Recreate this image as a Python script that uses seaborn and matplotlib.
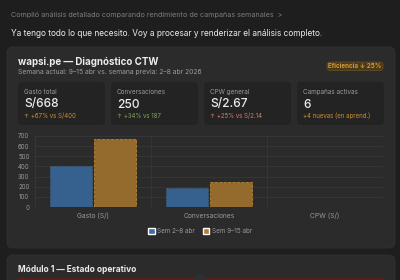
import numpy as np
import pandas as pd
import matplotlib
matplotlib.use("Agg")
import matplotlib.pyplot as plt
from matplotlib.patches import FancyBboxPatch, Rectangle, Circle
import seaborn as sns

# ================= DATA =================
metrics = ["Gasto (S/)", "Conversaciones", "CPW (S/)"]
prev_week = [400, 187, 2.14]
curr_week = [668, 250, 2.67]
week_labels = ["Sem 2–8 abr", "Sem 9–15 abr"]
y_ticks = [0, 100, 200, 300, 400, 500, 600, 700]

kpi_labels = ["Gasto total", "Conversaciones", "CPW general", "Campañas activas"]
kpi_values = ["S/668", "250", "S/2.67", "6"]
kpi_notes = ["↑ +67% vs S/400", "↑ +34% vs 187", "↑ +25% vs S/2.14", "+4 nuevas (en aprend.)"]

# ================= STYLE =================
BG = "#1e1e1e"
CARD = "#2b2b2b"
BOX = "#232323"
BLUE = "#36618f"
ORANGE = "#956b2d"
WHITE = "#ececec"
GRAY = "#9a9a9a"
note_colors = ["#c98f35", "#79a851", "#d97c68", "#c98f35"]

sns.set_theme(style="dark")
plt.rcParams["font.family"] = ["Inter", "DejaVu Sans"]

fig = plt.figure(figsize=(4, 2.8), dpi=100, facecolor=BG)

# background layer in pixel coords
bg = fig.add_axes([0, 0, 1, 1], zorder=0)
bg.set_xlim(0, 400)
bg.set_ylim(280, 0)
bg.axis("off")
bg.set_facecolor(BG)

bg.text(11, 15, "Compiló análisis detallado comparando rendimiento de campañas semanales  >",
        color="#7d7d7d", fontsize=5.2, va="center")
bg.text(11, 33, "Ya tengo todo lo que necesito. Voy a procesar y renderizar el análisis completo.",
        color=WHITE, fontsize=6.0, va="center")

# main card
bg.add_patch(FancyBboxPatch((7, 47), 388, 201, boxstyle="round,pad=0,rounding_size=6",
                            fc=CARD, ec="#333333", lw=0.5))
bg.text(18, 62, "wapsi.pe — Diagnóstico CTW", color=WHITE, fontsize=7, fontweight="bold", va="center")
bg.text(18, 72, "Semana actual: 9–15 abr vs. semana previa: 2–8 abr 2026",
        color=GRAY, fontsize=4.9, va="center")

# badge
bg.add_patch(FancyBboxPatch((327, 62), 56, 8.5, boxstyle="round,pad=0,rounding_size=3",
                            fc="#4a3a1a", ec="#6b5324", lw=0.5))
bg.text(355, 66.3, "Eficiencia ↓ 25%", color="#d39a3a", fontsize=4.5, fontweight="bold",
        ha="center", va="center")

# KPI boxes
box_x = [18, 111, 204, 297]
for i in range(4):
    bg.add_patch(FancyBboxPatch((box_x[i], 82), 87, 43, boxstyle="round,pad=0,rounding_size=4",
                                fc=BOX, ec="none"))
    bg.text(box_x[i] + 6, 92, kpi_labels[i], color=GRAY, fontsize=4.6, va="center")
    bg.text(box_x[i] + 6, 104.5, kpi_values[i], color=WHITE, fontsize=8.6, fontweight="medium",
            va="center")
    bg.text(box_x[i] + 6, 115.5, kpi_notes[i], color=note_colors[i], fontsize=4.4, va="center")

# second card
bg.add_patch(FancyBboxPatch((7, 255), 388, 40, boxstyle="round,pad=0,rounding_size=6",
                            fc=CARD, ec="#333333", lw=0.5))
bg.text(18, 269, "Módulo 1 — Estado operativo", color=WHITE, fontsize=6, fontweight="bold", va="center")
bg.add_patch(Rectangle((18, 278), 365, 6, fc="#5a1e1e", ec="none"))
bg.add_patch(Circle((200, 281), 7, fc="#2e2e2e", ec="none"))

# ================= CHART =================
df = pd.DataFrame({
    "metric": metrics * 2,
    "value": prev_week + curr_week,
    "week": [week_labels[0]] * 3 + [week_labels[1]] * 3,
})

ax = fig.add_axes([35 / 400, 1 - 207 / 280, 348 / 400, 71 / 280], zorder=1)
ax.set_facecolor("none")
sns.barplot(data=df, x="metric", y="value", hue="week", palette=[BLUE, ORANGE],
            width=0.76, gap=0.05, saturation=1, legend=False, ax=ax, zorder=3)

for bar in ax.containers[0]:
    bar.set_edgecolor("#4a6a8c")
    bar.set_linestyle(":")
    bar.set_linewidth(0.6)
for bar in ax.containers[1]:
    bar.set_edgecolor("#b98534")
    bar.set_linestyle("--")
    bar.set_linewidth(0.6)

ax.set_xlim(-0.5, 2.5)
ax.set_ylim(0, 700)
ax.set_yticks(y_ticks)
ax.set_xticks([-0.5, 0.5, 1.5], minor=True)
ax.yaxis.grid(True, color="#3a3a3a", lw=0.5)
ax.xaxis.grid(True, which="minor", color="#3a3a3a", lw=0.5)
ax.xaxis.grid(False, which="major")
ax.set_axisbelow(True)
for s in ax.spines.values():
    s.set_visible(False)
ax.tick_params(axis="both", which="both", length=0, colors=GRAY, labelsize=4.4)
ax.tick_params(axis="y", pad=4)
ax.tick_params(axis="x", pad=4, labelsize=4.8)
ax.set_xlabel("")
ax.set_ylabel("")

handles = [Rectangle((0, 0), 1, 1, fc="#3a6ea5"), Rectangle((0, 0), 1, 1, fc="#b07f30")]
fig.legend(handles, week_labels, loc="center", bbox_to_anchor=(0.5, 1 - 231 / 280),
           ncol=2, frameon=False, fontsize=4.6, labelcolor=GRAY,
           handlelength=1.0, handleheight=1.0, handletextpad=0.4, columnspacing=1.2)

fig.savefig("out.png", dpi=100, facecolor=BG)
